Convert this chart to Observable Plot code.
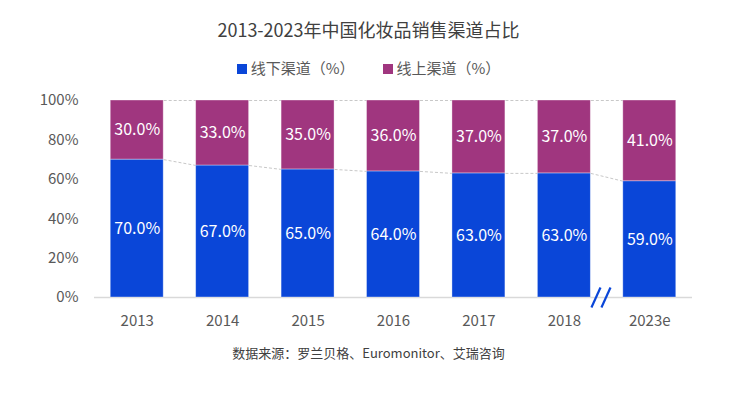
<!DOCTYPE html>
<html>
<head>
<meta charset="utf-8">
<script src="https://cdn.jsdelivr.net/npm/d3@7"></script>
<script src="https://cdn.jsdelivr.net/npm/@observablehq/plot@0.6"></script>
<style>
  body { margin: 0; background: #fff; font-family: "Noto Sans CJK SC", "Noto Sans", sans-serif; }
  #wrap { position: relative; width: 737px; height: 398px; overflow: hidden; }
  #title { position: absolute; top: 16px; left: 0; width: 737px; text-align: center; font-size: 18px; color: #404040; line-height: 26px; }
  #legend { position: absolute; top: 57px; left: 0; width: 737px; text-align: center; font-size: 15px; color: #595959; line-height: 22px; }
  #legend span.item { display: inline-block; margin: 0 14px; }
  #legend span.sw { display: inline-block; width: 10px; height: 10px; margin-right: 4px; vertical-align: -0px; }
  #caption { position: absolute; top: 343px; left: 0; width: 737px; text-align: center; font-size: 13px; color: #404040; line-height: 20px; }
  #chart { position: absolute; top: 0; left: 0; }
</style>
</head>
<body>
<div id="wrap">
  <div id="chart"></div>
  <div id="title">2013-2023年中国化妆品销售渠道占比</div>
  <div id="legend"></div>
  <div id="caption">数据来源：罗兰贝格、Euromonitor、艾瑞咨询</div>
</div>
<script>
const years = ["2013", "2014", "2015", "2016", "2017", "2018", "2023e"];
const offline = [70, 67, 65, 64, 63, 63, 59];
const online = [30, 33, 35, 36, 37, 37, 41];
const seriesNames = ["线下渠道（%）", "线上渠道（%）"];
const colors = ["#0a46d8", "#a0367f"];
const yTicks = [0, 20, 40, 60, 80, 100];

const half = 0.31;
const rows = [];
years.forEach((y, i) => {
  rows.push({i, s: seriesNames[0], y1: 0, y2: offline[i], v: offline[i], c: colors[0]});
  rows.push({i, s: seriesNames[1], y1: offline[i], y2: offline[i] + online[i], v: online[i], c: colors[1]});
});
const links = [];
for (let i = 0; i < years.length - 1; i++) {
  links.push({x1: i + half, x2: i + 1 - half, y1: 100, y2: 100});
  links.push({x1: i + half, x2: i + 1 - half, y1: offline[i], y2: offline[i + 1]});
}
const breakX = (years.length - 2 + years.length - 1) / 2 - 0.13;

const legend = document.getElementById("legend");
seriesNames.forEach((n, k) => {
  const s = document.createElement("span");
  s.className = "item";
  s.innerHTML = `<span class="sw" style="background:${colors[k]}"></span>${n}`;
  legend.appendChild(s);
});

const chart = Plot.plot({
  width: 737,
  height: 398,
  marginTop: 100,
  marginBottom: 101,
  marginLeft: 94,
  marginRight: 45,
  style: {fontFamily: "'Noto Sans CJK SC', 'Noto Sans', sans-serif", fontSize: "15px", color: "#595959", background: "transparent"},
  x: {type: "linear", domain: [-0.5, years.length - 0.5]},
  y: {domain: [0, 100]},
  marks: [
    Plot.axisY({ticks: yTicks, tickFormat: d => d + "%", tickSize: 0, tickPadding: 16, label: null, fontSize: 15, fill: "#595959"}),
    Plot.axisX({ticks: d3.range(years.length), tickFormat: i => years[i], tickSize: 0, tickPadding: 18, label: null, fontSize: 15, fill: "#595959"}),
    Plot.ruleY([0], {stroke: "#d9d9d9", strokeWidth: 1.5, x1: -0.5, x2: years.length - 0.5}),
    Plot.link(links, {x1: "x1", x2: "x2", y1: "y1", y2: "y2", stroke: "#c8c8c8", strokeWidth: 1, strokeDasharray: "3,2"}),
    Plot.rect(rows, {x1: d => d.i - half, x2: d => d.i + half, y1: "y1", y2: "y2", fill: "c", stroke: "#ffffff", strokeOpacity: 0.45, strokeWidth: 0.8}),
    Plot.text(rows, {x: "i", y: d => (d.y1 + d.y2) / 2, text: d => d.v.toFixed(1) + "%", fill: "white", fontSize: 16}),
    Plot.link([0, 1], {x1: k => breakX + k * 0.117 - 0.053, x2: k => breakX + k * 0.117 + 0.053, y1: 0, y2: 0, stroke: colors[0], strokeWidth: 2.2,
      render(index, scales, values, dims, ctx, next) {
        const g = next(index, scales, values, dims, ctx);
        d3.select(g).selectAll("path").each(function(d, j) {
          const x1 = values.x1[index[j]], x2 = values.x2[index[j]], y = values.y1[index[j]];
          d3.select(this).attr("d", `M${x1},${y + 10}L${x2},${y - 10}`);
        });
        return g;
      }})
  ]
});
document.getElementById("chart").appendChild(chart);
</script>
</body>
</html>
